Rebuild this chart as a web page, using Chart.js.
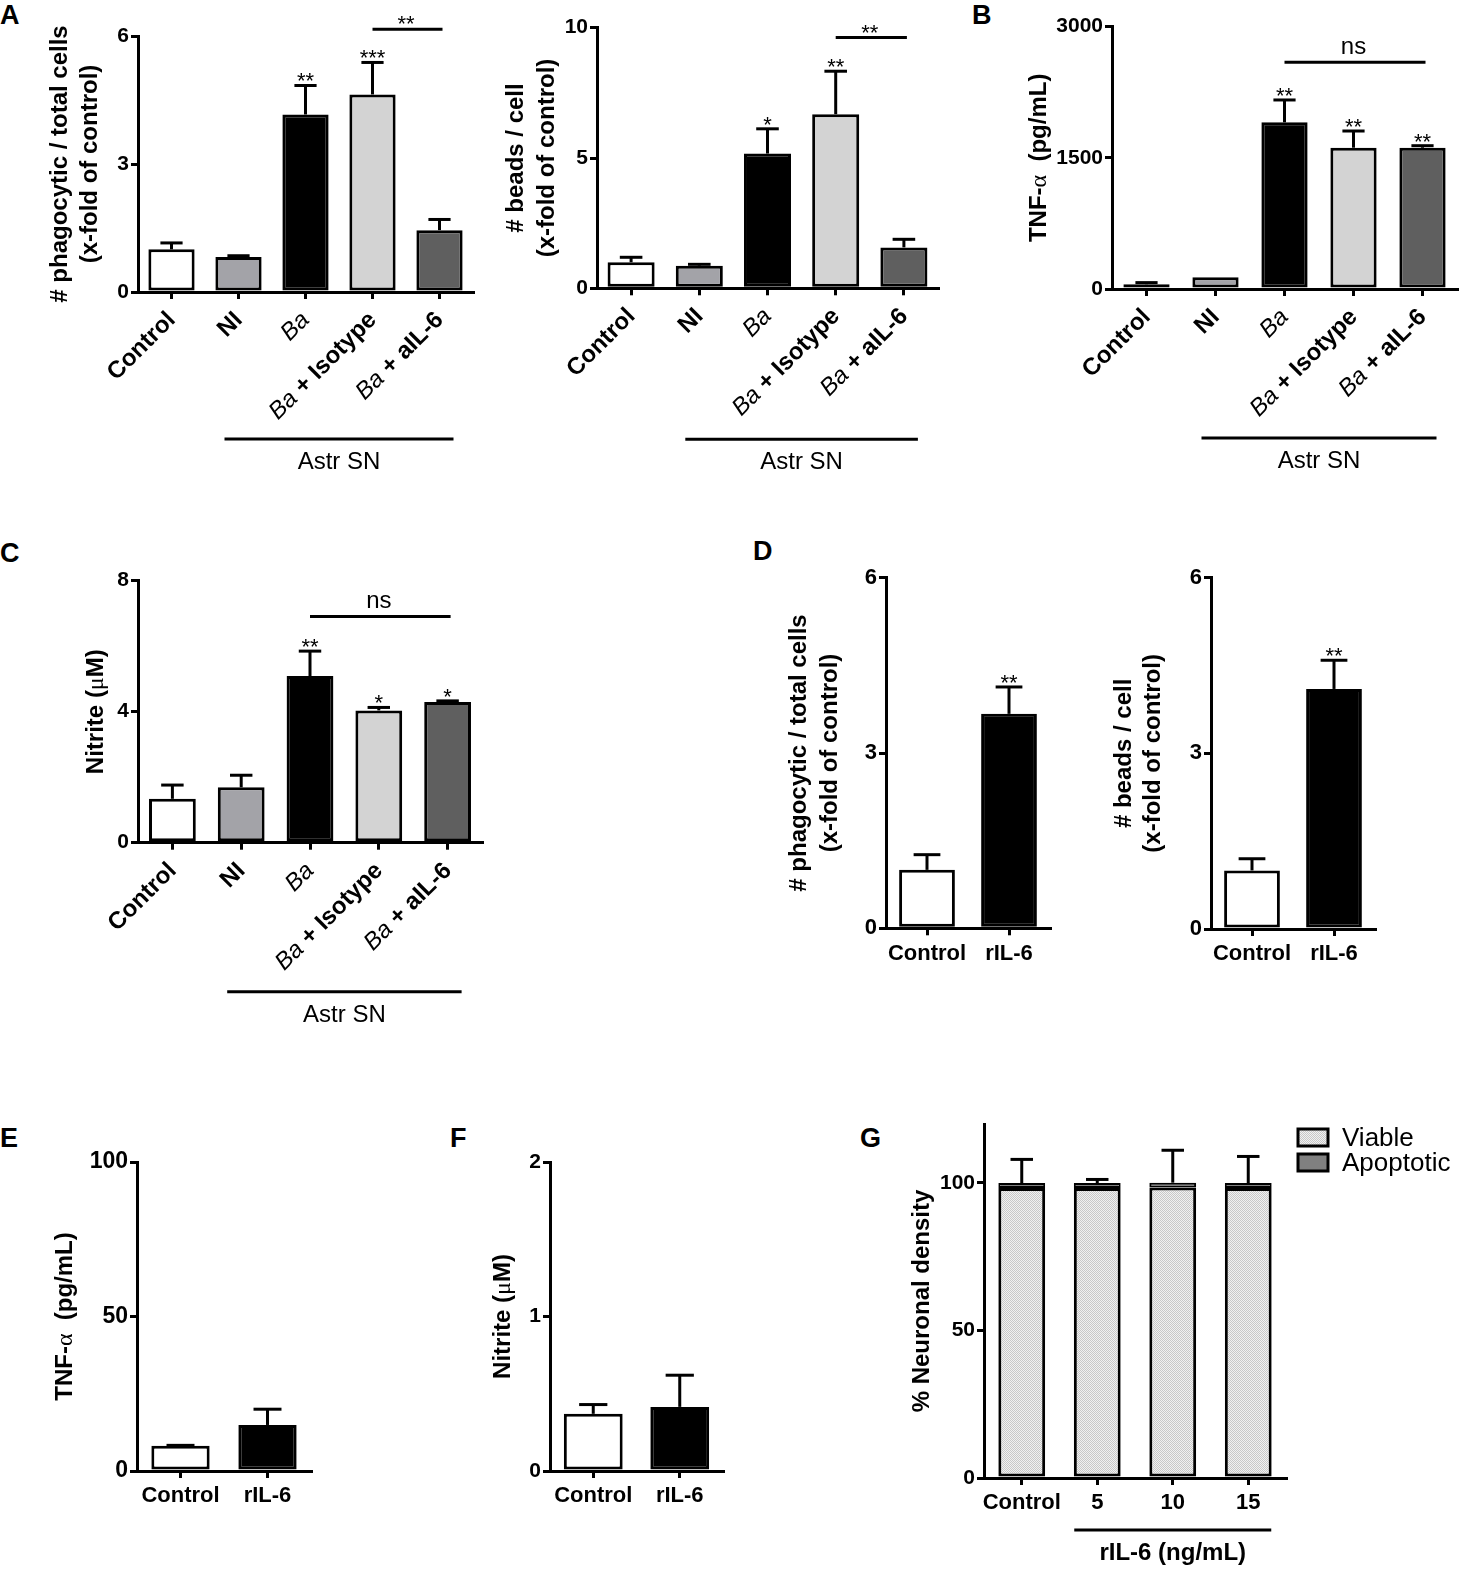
<!DOCTYPE html>
<html>
<head>
<meta charset="utf-8">
<script src="https://cdn.jsdelivr.net/npm/chart.js@4.4.1/dist/chart.umd.min.js"></script>
<style>
    body { margin: 0; background: #fff; }
    #fig { position: relative; width: 1461px; height: 1572px; overflow: hidden; background: #fff; }
    #fig canvas { position: absolute; }
    .tag { position: absolute; font: bold 27px 'Liberation Sans', Arial, sans-serif; line-height: 1; color: #000; }
</style>
</head>
<body>
<div id="fig">
    <div class="tag" style="left:0px;top:2px">A</div>
    <div class="tag" style="left:972px;top:2px">B</div>
    <div class="tag" style="left:0px;top:540px">C</div>
    <div class="tag" style="left:753px;top:538px">D</div>
    <div class="tag" style="left:0px;top:1125px">E</div>
    <div class="tag" style="left:450px;top:1125px">F</div>
    <div class="tag" style="left:860px;top:1125px">G</div>
</div>
<script>
// groups treated with astrocyte supernatant
var astrLabels = ['Control', 'NI', 'Ba', 'Ba + Isotype', 'Ba + aIL-6'];
var astrColors = ['#ffffff', '#a3a3a8', '#000000', '#d3d3d3', '#5f5f5f'];

var phagoMean = [1.0, 0.82, 4.16, 4.63, 1.45];
var phagoSem = [0.15, 0.03, 0.68, 0.75, 0.25];
var phagoStars = ['', '', '**', '***', ''];

var beadsMean = [1.0, 0.87, 5.17, 6.68, 1.57];
var beadsSem = [0.19, 0.05, 0.95, 1.65, 0.31];
var beadsStars = ['', '', '*', '**', ''];

var tnfMean = [55, 134, 1906, 1616, 1616];
var tnfSem = [18, 0, 256, 191, 23];
var tnfStars = ['', '', '**', '**', '**'];

var nitriteMean = [1.34, 1.69, 5.09, 4.04, 4.30];
var nitriteSem = [0.42, 0.37, 0.76, 0.09, 0.03];
var nitriteStars = ['', '', '**', '*', '*'];

// recombinant IL-6
var rilLabels = ['Control', 'rIL-6'];
var rilColors = ['#ffffff', '#000000'];
var rilPhagoMean = [1.0, 3.67];
var rilPhagoSem = [0.26, 0.46];
var rilBeadsMean = [1.0, 4.10];
var rilBeadsSem = [0.20, 0.49];
var rilTnfMean = [8.2, 14.9];
var rilTnfSem = [0.1, 5.1];
var rilNitriteMean = [0.37, 0.415];
var rilNitriteSem = [0.06, 0.205];

// neuronal density by dose
var doseLabels = ['Control', '5', '10', '15'];
var viable = [98.3, 98.3, 98.5, 98.3];
var apoptotic = [1.7, 1.7, 1.6, 1.7];
var neuronSem = [8, 1.2, 11, 9];

var FONT = "'Liberation Sans', Arial, Helvetica, sans-serif";
var BOLD = 'bold 24px ' + FONT;
var SYM = "24px 'Liberation Serif', 'DejaVu Serif', serif";

var titlePhago = [[['# phagocytic / total cells', BOLD]], [['(x-fold of control)', BOLD]]];
var titleBeads = [[['# beads / cell', BOLD]], [['(x-fold of control)', BOLD]]];
var titleTnf = [[['TNF-', BOLD], ['\u03b1', SYM], ['  (pg/mL)', BOLD]]];
var titleNitrite = [[['Nitrite (', BOLD], ['\u03bc', SYM], ['M)', BOLD]]];
var titleNeuron = [[['% Neuronal density', BOLD]]];

function drawRich(ctx, segs, x, y, align) {
    var total = 0;
    segs.forEach(function (s) {
        ctx.font = s[1];
        total += ctx.measureText(s[0]).width;
    });
    var start = align === 'right' ? x - total : (align === 'center' ? x - total / 2 : x);
    ctx.textAlign = 'left';
    segs.forEach(function (s) {
        ctx.font = s[1];
        ctx.fillText(s[0], start, y);
        start += ctx.measureText(s[0]).width;
    });
}

function labelSegs(label) {
    if (label.indexOf('Ba') === 0) {
        return [['Ba', 'italic 24px ' + FONT], [label.slice(2), 'bold 24px ' + FONT]];
    }
    return [[label, 'bold 24px ' + FONT]];
}

function line(ctx, x1, y1, x2, y2) {
    ctx.beginPath();
    ctx.moveTo(x1, y1);
    ctx.lineTo(x2, y2);
    ctx.stroke();
}

function marks(spec) {
    return {
        id: 'marks',
        afterDraw: function (chart) {
            var ctx = chart.ctx;
            var ys = chart.scales.y;
            var area = chart.chartArea;
            var sets = chart.data.datasets;
            var meta = chart.getDatasetMeta(sets.length - 1);
            ctx.save();
            ctx.strokeStyle = '#000';
            ctx.fillStyle = '#000';
            ctx.lineWidth = 3;
            ctx.textBaseline = 'alphabetic';

            // error bars and stars
            chart.data.labels.forEach(function (lab, i) {
                var bar = meta.data[i];
                var top = 0;
                sets.forEach(function (d) { top += d.data[i]; });
                var y0 = ys.getPixelForValue(top);
                var y1 = y0;
                if (spec.sem && spec.sem[i] > 0) {
                    y1 = ys.getPixelForValue(top + spec.sem[i]);
                    var half = bar.width * 0.24;
                    line(ctx, bar.x, y0, bar.x, y1);
                    line(ctx, bar.x - half, y1, bar.x + half, y1);
                }
                if (spec.stars && spec.stars[i]) {
                    ctx.font = '22px ' + FONT;
                    ctx.textAlign = 'center';
                    ctx.fillText(spec.stars[i], bar.x, y1 + 3);
                }
                if (spec.rotLabels) {
                    ctx.save();
                    ctx.translate(bar.x + 5, area.bottom + 29);
                    ctx.rotate(-Math.PI / 4);
                    drawRich(ctx, labelSegs(lab), 0, 0, 'right');
                    ctx.restore();
                }
            });

            // comparison brackets
            (spec.brackets || []).forEach(function (b) {
                var xa = meta.data[b.from].x, xb = meta.data[b.to].x;
                var y = ys.getPixelForValue(b.y);
                line(ctx, xa, y, xb + 3, y);
                ctx.textAlign = 'center';
                if (b.text === 'ns') {
                    ctx.font = '24px ' + FONT;
                    ctx.fillText(b.text, (xa + xb) / 2, y - 8);
                } else {
                    ctx.font = '22px ' + FONT;
                    ctx.fillText(b.text, (xa + xb) / 2, y + 2);
                }
            });

            // group line under the labels
            if (spec.group) {
                var g = spec.group;
                var ga = meta.data[g.from].x - g.ext, gb = meta.data[g.to].x + g.ext;
                var gy = area.bottom + g.dy;
                line(ctx, ga, gy, gb, gy);
                ctx.font = g.font;
                ctx.textAlign = 'center';
                ctx.fillText(g.text, (ga + gb) / 2, gy + 30);
            }

            // axis title
            if (spec.title) {
                var cy = (area.top + area.bottom) / 2;
                spec.title.forEach(function (segs, k) {
                    ctx.save();
                    ctx.translate(area.left + spec.titleDx[k], cy);
                    ctx.rotate(-Math.PI / 2);
                    drawRich(ctx, segs, 0, 0, 'center');
                    ctx.restore();
                });
            }

            // legend
            if (spec.legend) {
                sets.forEach(function (d, k) {
                    var bx = area.right + 12, by = area.top + 5 + k * 25;
                    ctx.fillStyle = d.backgroundColor;
                    ctx.fillRect(bx, by, 30, 17);
                    ctx.strokeRect(bx, by, 30, 17);
                    ctx.fillStyle = '#000';
                    ctx.font = '26px ' + FONT;
                    ctx.textAlign = 'left';
                    ctx.textBaseline = 'middle';
                    ctx.fillText(d.label, area.right + 56, area.top + 15 + k * 25);
                    ctx.textBaseline = 'alphabetic';
                });
            }
            ctx.restore();
        }
    };
}

function makeChart(box, area, cfg, spec) {
    var canvas = document.createElement('canvas');
    canvas.width = box[2];
    canvas.height = box[3];
    canvas.style.left = box[0] + 'px';
    canvas.style.top = box[1] + 'px';
    document.getElementById('fig').appendChild(canvas);

    // fixed scale sizes so the plot area lands where the figure has it
    var YW = 60;
    var XH = spec.rotLabels ? 10 : 40;
    var pad = {
        left: area.x0 - box[0] - YW,
        top: area.yTop - box[1],
        right: box[0] + box[2] - area.x1,
        bottom: box[1] + box[3] - area.yBot - XH
    };
    var axisGrid = {
        display: true, drawOnChartArea: false, drawTicks: true,
        tickLength: 7, tickWidth: 3, tickColor: '#000', color: '#000', lineWidth: 3, offset: false
    };

    return new Chart(canvas, {
        type: 'bar',
        data: { labels: cfg.labels, datasets: cfg.datasets },
        options: {
            responsive: false,
            animation: false,
            events: [],
            layout: { padding: pad },
            plugins: { legend: { display: false }, tooltip: { enabled: false } },
            scales: {
                x: {
                    stacked: !!cfg.stacked,
                    offset: true,
                    afterFit: function (s) { s.height = XH; },
                    border: { display: true, color: '#000', width: 3 },
                    grid: axisGrid,
                    ticks: {
                        display: !spec.rotLabels, autoSkip: false, maxRotation: 0, minRotation: 0,
                        padding: 5, color: '#000', font: { family: FONT, size: 22, weight: 'bold' }
                    }
                },
                y: {
                    stacked: !!cfg.stacked,
                    min: 0,
                    max: cfg.max,
                    afterFit: function (s) { s.width = YW; },
                    border: { display: true, color: '#000', width: 3 },
                    grid: axisGrid,
                    ticks: {
                        stepSize: cfg.step, includeBounds: false, padding: 2, color: '#000',
                        font: { family: FONT, size: cfg.tickSize || 21, weight: 'bold' },
                        callback: function (v) { return String(v); }
                    }
                }
            }
        },
        plugins: [marks(spec)]
    });
}

function bars(values, colors, pct) {
    return [{
        data: values,
        backgroundColor: colors,
        borderColor: '#000',
        borderWidth: 3,
        borderSkipped: false,
        categoryPercentage: 1,
        barPercentage: pct
    }];
}

// checker fill for viable neurons
var tile = document.createElement('canvas');
tile.width = 2;
tile.height = 2;
var tctx = tile.getContext('2d');
tctx.fillStyle = '#f1f1f1';
tctx.fillRect(0, 0, 2, 2);
tctx.fillStyle = '#c8c8c8';
tctx.fillRect(0, 0, 1, 1);
tctx.fillRect(1, 1, 1, 1);
var checker = tctx.createPattern(tile, 'repeat');

// A, left
makeChart([0, 0, 480, 480], { x0: 138, x1: 473, yTop: 36, yBot: 292 },
    { labels: astrLabels, datasets: bars(phagoMean, astrColors, 0.69), max: 6, step: 3 },
    {
        sem: phagoSem, stars: phagoStars, rotLabels: true,
        title: titlePhago, titleDx: [-71, -41],
        brackets: [{ from: 3, to: 4, y: 6.16, text: '**' }],
        group: { from: 1, to: 4, ext: 14, dy: 147, text: 'Astr SN', font: '24px ' + FONT }
    });

// A, right
makeChart([480, 0, 480, 480], { x0: 597, x1: 938, yTop: 27.7, yBot: 288.3 },
    { labels: astrLabels, datasets: bars(beadsMean, astrColors, 0.69), max: 10, step: 5 },
    {
        sem: beadsSem, stars: beadsStars, rotLabels: true,
        title: titleBeads, titleDx: [-74, -43],
        brackets: [{ from: 3, to: 4, y: 9.62, text: '**' }],
        group: { from: 1, to: 4, ext: 14, dy: 151, text: 'Astr SN', font: '24px ' + FONT }
    });

// B
makeChart([960, 0, 501, 480], { x0: 1112, x1: 1457, yTop: 26.7, yBot: 289 },
    { labels: astrLabels, datasets: bars(tnfMean, astrColors, 0.67), max: 3000, step: 1500 },
    {
        sem: tnfSem, stars: tnfStars, rotLabels: true,
        title: titleTnf, titleDx: [-66],
        brackets: [{ from: 2, to: 4, y: 2593, text: 'ns' }],
        group: { from: 1, to: 4, ext: 14, dy: 149, text: 'Astr SN', font: '24px ' + FONT }
    });

// C
makeChart([0, 540, 540, 500], { x0: 138, x1: 482, yTop: 580.7, yBot: 842.7 },
    { labels: astrLabels, datasets: bars(nitriteMean, astrColors, 0.68), max: 8, step: 4 },
    {
        sem: nitriteSem, stars: nitriteStars, rotLabels: true,
        title: titleNitrite, titleDx: [-35],
        brackets: [{ from: 2, to: 4, y: 6.91, text: 'ns' }],
        group: { from: 1, to: 4, ext: 14, dy: 149, text: 'Astr SN', font: '24px ' + FONT }
    });

// D, left
makeChart([740, 540, 330, 440], { x0: 886, x1: 1050, yTop: 577.7, yBot: 928.3 },
    { labels: rilLabels, datasets: bars(rilPhagoMean, rilColors, 0.68), max: 6, step: 3, tickSize: 22 },
    { sem: rilPhagoSem, stars: ['', '**'], title: titlePhago, titleDx: [-80, -49] });

// D, right
makeChart([1070, 540, 340, 440], { x0: 1211, x1: 1375, yTop: 577.7, yBot: 929 },
    { labels: rilLabels, datasets: bars(rilBeadsMean, rilColors, 0.68), max: 6, step: 3, tickSize: 22 },
    { sem: rilBeadsSem, stars: ['', '**'], title: titleBeads, titleDx: [-80, -51] });

// E
makeChart([0, 1100, 420, 472], { x0: 137, x1: 311, yTop: 1162, yBot: 1471 },
    { labels: rilLabels, datasets: bars(rilTnfMean, rilColors, 0.67), max: 100, step: 50, tickSize: 23 },
    { sem: rilTnfSem, title: titleTnf, titleDx: [-65] });

// F
makeChart([420, 1100, 420, 472], { x0: 550, x1: 723, yTop: 1162, yBot: 1471 },
    { labels: rilLabels, datasets: bars(rilNitriteMean, rilColors, 0.68), max: 2, step: 1 },
    { sem: rilNitriteSem, title: titleNitrite, titleDx: [-40] });

// G
makeChart([840, 1100, 621, 472], { x0: 984, x1: 1286, yTop: 1124, yBot: 1478 },
    {
        labels: doseLabels, stacked: true, max: 120, step: 50, tickSize: 21,
        datasets: [
            { label: 'Viable', data: viable, backgroundColor: checker, borderColor: '#000', borderWidth: 3, borderSkipped: false, categoryPercentage: 1, barPercentage: 0.62 },
            { label: 'Apoptotic', data: apoptotic, backgroundColor: '#808080', borderColor: '#000', borderWidth: 2, borderSkipped: false, categoryPercentage: 1, barPercentage: 0.62 }
        ]
    },
    {
        sem: neuronSem, title: titleNeuron, titleDx: [-55], legend: true,
        group: { from: 1, to: 3, ext: 23, dy: 52, text: 'rIL-6 (ng/mL)', font: BOLD }
    });
</script>
</body>
</html>
